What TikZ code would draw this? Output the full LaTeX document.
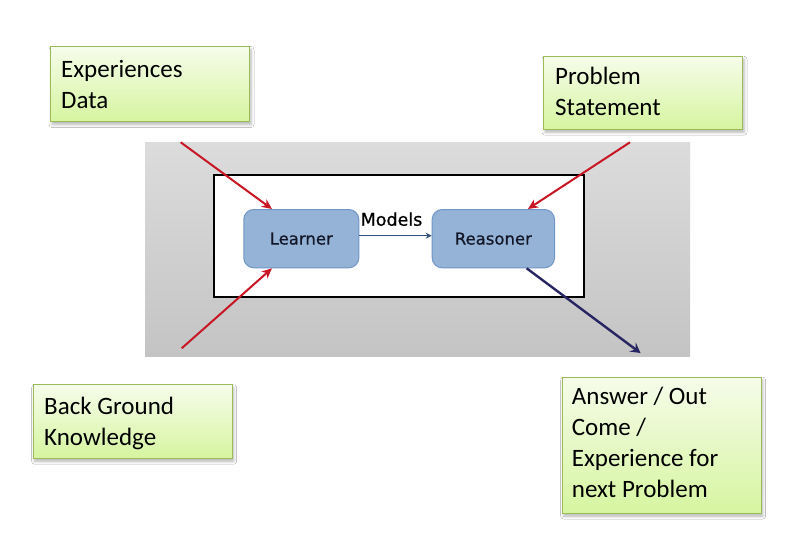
\documentclass[tikz,border=0pt]{standalone}
\usepackage{fontspec}
\setmainfont{Carlito}
\newfontfamily\dejavu{DejaVu Sans}
\newfontfamily\dejavusemi[FakeBold=0.6]{DejaVu Sans}
\usetikzlibrary{arrows.meta,calc,shadows.blur}
\definecolor{redarrow}{RGB}{200,22,36}
\definecolor{navyarrow}{RGB}{40,38,98}
\definecolor{greenborder}{RGB}{155,187,89}
\definecolor{greentop}{RGB}{246,252,234}
\definecolor{greenbot}{RGB}{214,245,160}
\definecolor{bluefill}{RGB}{149,179,215}
\definecolor{blueborder}{RGB}{112,150,198}
\definecolor{bluetext}{RGB}{18,22,38}
\definecolor{graytop}{RGB}{220,220,220}
\definecolor{graybot}{RGB}{196,196,196}
\definecolor{modelarrowc}{RGB}{50,80,120}
\tikzset{
  greenbox/.style={draw=greenborder, line width=1pt, top color=greentop, bottom color=greenbot,
    blur shadow={shadow xshift=1.5pt, shadow yshift=-3pt, shadow blur radius=3pt, shadow opacity=30},
    anchor=north west, minimum width=199, inner sep=0pt},
  boxtext/.style={anchor=base west, inner sep=0pt, font=\fontsize{25}{31}\selectfont},
  screenbg/.style={top color=graytop, bottom color=graybot, draw=none, anchor=north west, inner sep=0pt},
  framebox/.style={draw=black, fill=white, line width=2pt, anchor=north west, inner sep=0pt},
  procbox/.style={draw=blueborder, fill=bluefill, line width=1pt, rounded corners=10pt,
    anchor=north west, inner sep=0pt, text=bluetext, font=\dejavusemi\fontsize{16.5}{20}\selectfont},
  redarr/.style={draw=redarrow, line width=2pt, -{Stealth[length=10pt, width=9pt, inset=3pt]}},
  navyarr/.style={draw=navyarrow, line width=2.4pt, -{Stealth[length=10pt, width=11pt, inset=4pt]}},
  modelarr/.style={draw=modelarrowc, line width=1pt, -{Stealth[length=6pt, width=6pt, inset=2pt]}},
  modlabel/.style={anchor=base, inner sep=0pt, font=\dejavusemi\fontsize{17.5}{20}\selectfont}
}
\begin{document}
\begin{tikzpicture}[x=1pt,y=-1pt]
\useasboundingbox (0,0) rectangle (795,555);
\fill[white] (0,0) rectangle (795,555);

% screenshot background and frame
\node[screenbg, minimum width=545, minimum height=214] (screen) at (145,142) {};
\node[framebox, minimum width=370, minimum height=121.7] (frame) at (212.7,174.3) {};

% process boxes
\node[procbox, minimum width=115, minimum height=58.3] (learner) at (243.3,209) {Learner};
\node[procbox, minimum width=122.3, minimum height=58.3] (reasoner) at (431.7,209) {Reasoner};

% Models connector
\draw[modelarr] ($(learner.east)+(0,-3)$) -- ($(reasoner.west)+(0,-3)$);
\node[modlabel] (models) at (391.5,225.7) {Models};

% connector end points on the screenshot
\coordinate (expstart) at (180.7,142.3);
\coordinate (backstart) at (181.7,348.3);
\coordinate (probstart) at (630,142.3);
\coordinate (ansend) at (640.5,353);

\draw[redarr] (expstart) -- ($(learner.north west)!0.247!(learner.north east)$);
\draw[redarr] (backstart) -- ($(learner.south west)!0.247!(learner.south east)$);
\draw[redarr] (probstart) -- ($(reasoner.north west)!0.78!(reasoner.north east)$);
\draw[navyarr] ($(reasoner.south west)!0.77!(reasoner.south east)$) -- (ansend);

% green call-out boxes
\node[greenbox, minimum height=75] (exp) at (50,46) {};
\node[boxtext] (expT) at (61,77) {\begin{tabular}[t]{@{}l@{}}Experiences\\Data\end{tabular}};

\node[greenbox, minimum height=73] (prob) at (543,55.7) {};
\node[boxtext] (probT) at (555,84) {\begin{tabular}[t]{@{}l@{}}Problem\\Statement\end{tabular}};

\node[greenbox, minimum height=73.4] (back) at (32.7,384.3) {};
\node[boxtext] (backT) at (44,414.3) {\begin{tabular}[t]{@{}l@{}}Back Ground\\Knowledge\end{tabular}};

\node[greenbox, minimum height=135.8] (ans) at (561.7,376.7) {};
\node[boxtext] (ansT) at (571.7,404) {\begin{tabular}[t]{@{}l@{}}Answer / Out\\Come /\\Experience for\\next Problem\end{tabular}};
\end{tikzpicture}
\end{document}
